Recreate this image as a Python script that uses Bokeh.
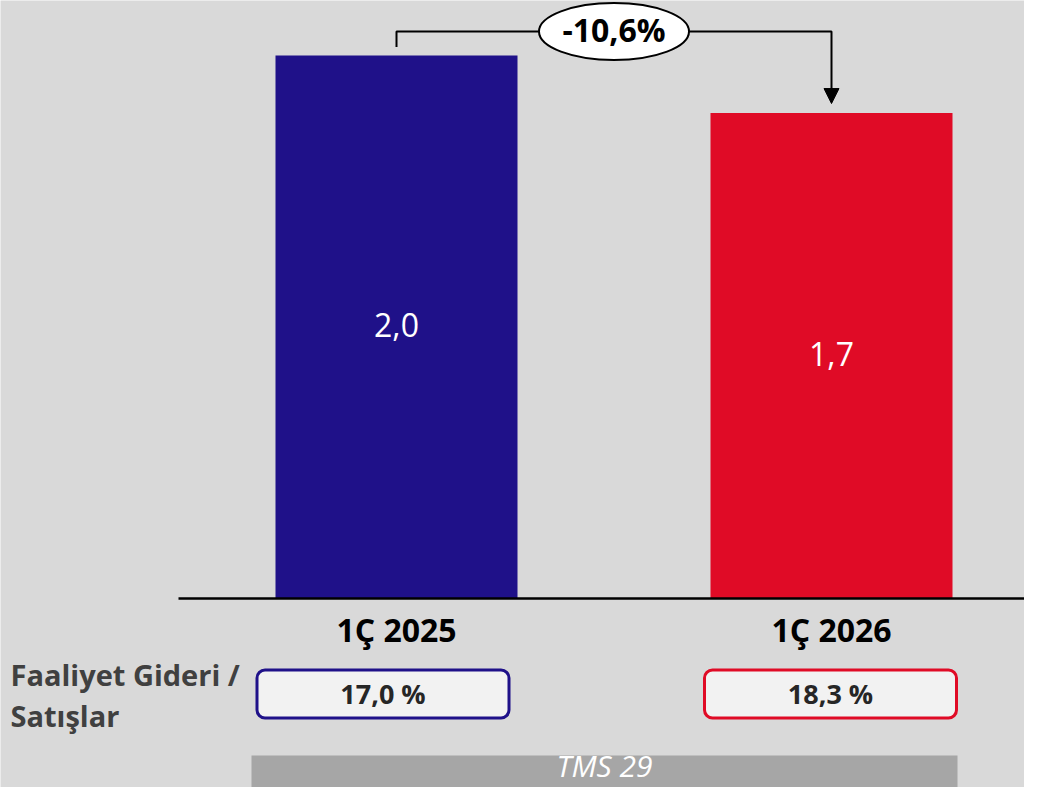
from bokeh.plotting import figure
from bokeh.models import Range1d, Arrow, NormalHead
from bokeh.core.properties import value
from bokeh.embed import file_html
from bokeh.resources import INLINE

# ---- data ----
categories = ["1Ç 2025", "1Ç 2026"]
values = [1.953, 1.746]
ratio_title = ["Faaliyet Gideri /", "Satışlar"]
ratio_labels = ["17,0 %", "18,3 %"]
footer_label = "TMS 29"
bar_colors = ["#1f1189", "#e00b26"]

FONT = value("Open Sans")

def fmt(v):
    return f"{v:.1f}".replace(".", ",")

value_labels = [fmt(v) for v in values]
change_label = fmt((values[1] / values[0] - 1) * 100) + "%"

# ---- layout helpers (pixel rows -> data units) ----
BASE = 598.0           # baseline pixel row
S = 543.0 / values[0]  # pixels per unit
SHIFT = 0.42           # svg text baseline correction (em)

def py(ref_y):
    return (BASE - ref_y) / S

def dy(px):
    return px / S

def ty(baseline_px, size):
    return py(baseline_px - SHIFT * size)

x_c = [396 + i * 435 for i in range(len(categories))]
box_x = [382.5, 830.0]

p = figure(width=1024, height=787,
           x_range=Range1d(0, 1024), y_range=Range1d(py(787), py(0)),
           output_backend="svg", toolbar_location=None, min_border=0)
p.axis.visible = False
p.grid.visible = False
p.outline_line_color = None
p.background_fill_color = "#d9d9d9"
p.border_fill_color = "#d9d9d9"

# bars
p.vbar(x=x_c, top=values, bottom=0, width=242, fill_color=bar_colors, line_color=None)

# baseline
p.line(x=[178, 1045], y=[0, 0], line_color="#000000", line_width=2.5)

# value labels inside bars
p.text(x=x_c, y=[v / 2 - dy(11.5) + dy(SHIFT * 32) for v in values], text=value_labels,
       text_font=FONT, text_font_size="32px", text_color="white",
       text_align="center", text_baseline="alphabetic")

# category labels
p.text(x=x_c, y=[ty(642, 32)] * 2, text=categories,
       text_font=FONT, text_font_size="32px", text_font_style="bold", text_color="#000000",
       text_align="center", text_baseline="alphabetic")

# connector with change label
y_conn = py(31)
p.line(x=[x_c[0], x_c[0], x_c[1], x_c[1]],
       y=[values[0] + dy(8.5), y_conn, y_conn, values[1] + dy(24)],
       line_color="#000000", line_width=2)
p.add_layout(Arrow(end=NormalHead(size=15, fill_color="#000000", line_color="#000000", line_width=1),
                   x_start=x_c[1], y_start=values[1] + dy(25),
                   x_end=x_c[1], y_end=values[1] + dy(9.5),
                   line_color="#000000", line_width=2))
mid_x = (x_c[0] + x_c[1]) / 2
p.ellipse(x=[mid_x], y=[py(31)], width=150, height=57,
          width_units="screen", height_units="screen",
          fill_color="white", line_color="#000000", line_width=2)
p.text(x=[mid_x], y=[ty(42, 32)], text=[change_label],
       text_font=FONT, text_font_size="32px", text_font_style="bold", text_color="#000000",
       text_align="center", text_baseline="alphabetic")

# ratio row
p.text(x=[10, 10], y=[ty(686, 29), ty(727, 29)], text=ratio_title,
       text_font=FONT, text_font_size="29px", text_font_style="bold", text_color="#404040",
       text_align="left", text_baseline="alphabetic")
p.quad(left=[b - 126 for b in box_x], right=[b + 126 for b in box_x],
       top=[py(669.5)] * 2, bottom=[py(717.5)] * 2,
       fill_color="#f2f2f2", line_color=bar_colors, line_width=3, border_radius=8)
p.text(x=box_x, y=[ty(704, 27)] * 2, text=ratio_labels,
       text_font=FONT, text_font_size="27px", text_font_style="bold", text_color="#262626",
       text_align="center", text_baseline="alphabetic")

# footer band
p.quad(left=[251], right=[957], top=[py(755)], bottom=[py(810)],
       fill_color="#a6a6a6", line_color=None)
p.text(x=[604], y=[ty(777.5, 30)], text=[footer_label],
       text_font=FONT, text_font_size="30px", text_font_style="italic", text_color="white",
       text_align="center", text_baseline="alphabetic")

open("out.html", "w").write(file_html(p, INLINE))
